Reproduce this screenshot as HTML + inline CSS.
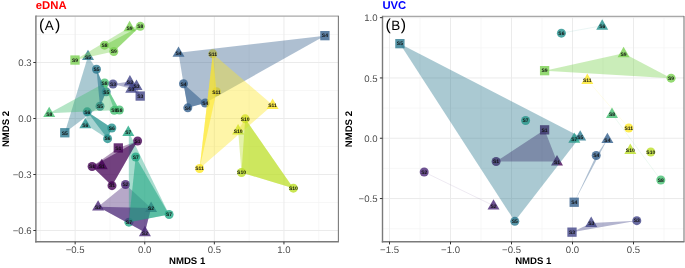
<!DOCTYPE html>
<html><head><meta charset="utf-8"><style>
html,body{margin:0;padding:0;background:#fff;}
body{width:685px;height:268px;overflow:hidden;}
svg{display:block;will-change:transform;}
text{font-family:"Liberation Sans",sans-serif;text-rendering:geometricPrecision;}
.l{font-size:5.0px;font-weight:bold;fill:#111;text-anchor:middle;}
.t{font-size:9.6px;fill:#4d4d4d;}
.at{font-size:9.6px;font-weight:bold;fill:#000;}
.ttl{font-size:11.3px;font-weight:bold;}
.tag{font-size:13.6px;fill:#000;}
</style></head><body>
<svg width="685" height="268" viewBox="0 0 685 268">
<rect width="685" height="268" fill="#fff"/>
<line x1="40.35" y1="16.2" x2="40.35" y2="241.8" stroke="#f2f2f2" stroke-width="0.6"/>
<line x1="109.95" y1="16.2" x2="109.95" y2="241.8" stroke="#f2f2f2" stroke-width="0.6"/>
<line x1="179.55" y1="16.2" x2="179.55" y2="241.8" stroke="#f2f2f2" stroke-width="0.6"/>
<line x1="249.15" y1="16.2" x2="249.15" y2="241.8" stroke="#f2f2f2" stroke-width="0.6"/>
<line x1="318.75" y1="16.2" x2="318.75" y2="241.8" stroke="#f2f2f2" stroke-width="0.6"/>
<line x1="35.9" y1="34.5" x2="338.4" y2="34.5" stroke="#f2f2f2" stroke-width="0.6"/>
<line x1="35.9" y1="90.5" x2="338.4" y2="90.5" stroke="#f2f2f2" stroke-width="0.6"/>
<line x1="35.9" y1="146.5" x2="338.4" y2="146.5" stroke="#f2f2f2" stroke-width="0.6"/>
<line x1="35.9" y1="202.5" x2="338.4" y2="202.5" stroke="#f2f2f2" stroke-width="0.6"/>
<line x1="75.15" y1="16.2" x2="75.15" y2="241.8" stroke="#ebebeb" stroke-width="1"/>
<line x1="144.75" y1="16.2" x2="144.75" y2="241.8" stroke="#ebebeb" stroke-width="1"/>
<line x1="214.35" y1="16.2" x2="214.35" y2="241.8" stroke="#ebebeb" stroke-width="1"/>
<line x1="283.95" y1="16.2" x2="283.95" y2="241.8" stroke="#ebebeb" stroke-width="1"/>
<line x1="35.9" y1="62.5" x2="338.4" y2="62.5" stroke="#ebebeb" stroke-width="1"/>
<line x1="35.9" y1="118.5" x2="338.4" y2="118.5" stroke="#ebebeb" stroke-width="1"/>
<line x1="35.9" y1="174.5" x2="338.4" y2="174.5" stroke="#ebebeb" stroke-width="1"/>
<line x1="35.9" y1="230.5" x2="338.4" y2="230.5" stroke="#ebebeb" stroke-width="1"/>
<rect x="70.35" y="55.4" width="9.3" height="9.3" fill="#7AD151" fill-opacity="0.8"/>
<circle cx="104.5" cy="45.15" r="4.5" fill="#7AD151" fill-opacity="0.8"/>
<circle cx="113.8" cy="51.45" r="4.5" fill="#7AD151" fill-opacity="0.8"/>
<polygon points="129.6,20.82 123.6,31.21 135.6,31.21" fill="#7AD151" fill-opacity="0.8"/>
<circle cx="140.3" cy="26.35" r="4.5" fill="#7AD151" fill-opacity="0.8"/>
<polygon points="88,49.72 82,60.11 94,60.11" fill="#2A788E" fill-opacity="0.8"/>
<circle cx="96.5" cy="69.25" r="4.5" fill="#2A788E" fill-opacity="0.8"/>
<circle cx="106.2" cy="91.85" r="4.5" fill="#2A788E" fill-opacity="0.8"/>
<circle cx="100" cy="106.25" r="4.5" fill="#2A788E" fill-opacity="0.8"/>
<rect x="60.15" y="128.1" width="9.3" height="9.3" fill="#2A788E" fill-opacity="0.8"/>
<circle cx="104.6" cy="82.95" r="4.5" fill="#43BF71" fill-opacity="0.8"/>
<circle cx="114.3" cy="110.35" r="4.5" fill="#43BF71" fill-opacity="0.8"/>
<circle cx="119.4" cy="110.05" r="4.5" fill="#43BF71" fill-opacity="0.8"/>
<polygon points="49.2,106.72 43.2,117.11 55.2,117.11" fill="#43BF71" fill-opacity="0.8"/>
<circle cx="113" cy="83.95" r="4.5" fill="#414487" fill-opacity="0.8"/>
<polygon points="129.9,75.12 123.9,85.51 135.9,85.51" fill="#414487" fill-opacity="0.8"/>
<polygon points="136.5,79.62 130.5,90.01 142.5,90.01" fill="#414487" fill-opacity="0.8"/>
<polygon points="131.2,82.32 125.2,92.71 137.2,92.71" fill="#414487" fill-opacity="0.8"/>
<rect x="135.55" y="91.4" width="9.3" height="9.3" fill="#414487" fill-opacity="0.8"/>
<circle cx="87.2" cy="111.85" r="4.5" fill="#21908C" fill-opacity="0.8"/>
<polygon points="85.3,117.92 79.3,128.31 91.3,128.31" fill="#21908C" fill-opacity="0.8"/>
<circle cx="111.8" cy="128.05" r="4.5" fill="#21908C" fill-opacity="0.8"/>
<circle cx="107.6" cy="138.65" r="4.5" fill="#21908C" fill-opacity="0.8"/>
<polygon points="128.3,125.52 122.3,135.91 134.3,135.91" fill="#22A884" fill-opacity="0.8"/>
<circle cx="135.7" cy="156.95" r="4.5" fill="#22A884" fill-opacity="0.8"/>
<circle cx="169.1" cy="214.45" r="4.5" fill="#22A884" fill-opacity="0.8"/>
<circle cx="128.9" cy="222.15" r="4.5" fill="#22A884" fill-opacity="0.8"/>
<rect x="113.65" y="143.3" width="9.3" height="9.3" fill="#440154" fill-opacity="0.8"/>
<circle cx="137.6" cy="140.95" r="4.5" fill="#440154" fill-opacity="0.8"/>
<circle cx="92.1" cy="166.45" r="4.5" fill="#440154" fill-opacity="0.8"/>
<polygon points="101.8,158.82 95.8,169.21 107.8,169.21" fill="#440154" fill-opacity="0.8"/>
<circle cx="112" cy="185.65" r="4.5" fill="#440154" fill-opacity="0.8"/>
<circle cx="125.5" cy="184.55" r="4.5" fill="#482576" fill-opacity="0.8"/>
<polygon points="98.1,200.22 92.1,210.61 104.1,210.61" fill="#482576" fill-opacity="0.8"/>
<polygon points="151.1,201.62 145.1,212.01 157.1,212.01" fill="#482576" fill-opacity="0.8"/>
<polygon points="144.9,225.82 138.9,236.21 150.9,236.21" fill="#482576" fill-opacity="0.8"/>
<polygon points="178.5,46.42 172.5,56.81 184.5,56.81" fill="#35608D" fill-opacity="0.8"/>
<rect x="320.25" y="31" width="9.3" height="9.3" fill="#35608D" fill-opacity="0.8"/>
<circle cx="183.5" cy="83.75" r="4.5" fill="#35608D" fill-opacity="0.8"/>
<circle cx="187.8" cy="107.85" r="4.5" fill="#35608D" fill-opacity="0.8"/>
<circle cx="205.2" cy="102.95" r="4.5" fill="#35608D" fill-opacity="0.8"/>
<circle cx="212.8" cy="53.85" r="4.5" fill="#FDE725" fill-opacity="0.8"/>
<circle cx="216.5" cy="91.75" r="4.5" fill="#FDE725" fill-opacity="0.8"/>
<polygon points="272.6,98.62 266.6,109.01 278.6,109.01" fill="#FDE725" fill-opacity="0.8"/>
<circle cx="199.6" cy="168.55" r="4.5" fill="#FDE725" fill-opacity="0.8"/>
<circle cx="245.2" cy="118.85" r="4.5" fill="#BBDF27" fill-opacity="0.8"/>
<polygon points="238.1,124.12 232.1,134.51 244.1,134.51" fill="#BBDF27" fill-opacity="0.8"/>
<circle cx="241.5" cy="172.55" r="4.5" fill="#BBDF27" fill-opacity="0.8"/>
<circle cx="293.4" cy="188.15" r="4.5" fill="#BBDF27" fill-opacity="0.8"/>
<polygon points="92.1,166.45 118.3,147.95 137.6,140.95 112,185.65" fill="#440154" fill-opacity="0.4"/>
<polygon points="125.5,184.55 151.1,208.05 144.9,232.25 98.1,206.65" fill="#482576" fill-opacity="0.4"/>
<polygon points="113,83.95 129.9,81.55 136.5,86.05 140.2,96.05 131.2,88.75" fill="#414487" fill-opacity="0.4"/>
<polygon points="178.5,52.85 324.9,35.65 205.2,102.95 187.8,107.85 183.5,83.75" fill="#35608D" fill-opacity="0.4"/>
<polygon points="88,56.15 96.5,69.25 106.2,91.85 100,106.25 64.8,132.75" fill="#2A788E" fill-opacity="0.4"/>
<polygon points="87.2,111.85 111.8,128.05 107.6,138.65 85.3,124.35" fill="#21908C" fill-opacity="0.4"/>
<polygon points="128.8,131.95 169.1,214.45 128.9,222.15" fill="#22A884" fill-opacity="0.4"/>
<polygon points="49.2,113.15 104.6,82.95 119.4,110.05 114.3,110.35" fill="#43BF71" fill-opacity="0.4"/>
<polygon points="75,60.05 129.6,27.25 140.3,26.35 113.8,51.45" fill="#7AD151" fill-opacity="0.4"/>
<polygon points="238.1,130.55 245.2,118.85 293.4,188.15 241.5,172.55" fill="#BBDF27" fill-opacity="0.4"/>
<polygon points="212.8,53.85 272.6,105.05 199.6,168.55" fill="#FDE725" fill-opacity="0.4"/>
<polygon points="92.1,166.45 137.6,140.95 112,185.65" fill="#440154" fill-opacity="0.58"/>
<polygon points="98.1,206.65 151.1,208.05 144.9,232.25" fill="#482576" fill-opacity="0.58"/>
<polygon points="129.9,81.55 136.5,86.05 131.2,88.75" fill="#414487" fill-opacity="0.58"/>
<polygon points="183.5,83.75 205.2,102.95 187.8,107.85" fill="#35608D" fill-opacity="0.58"/>
<polygon points="96.5,69.25 106.2,91.85 100,106.25" fill="#2A788E" fill-opacity="0.58"/>
<polygon points="87.2,111.85 111.8,128.05 107.6,138.65" fill="#21908C" fill-opacity="0.58"/>
<polygon points="135.7,156.95 169.1,214.45 128.8,222.15" fill="#22A884" fill-opacity="0.58"/>
<polygon points="104.6,82.95 119.4,110.05 114.3,110.35" fill="#43BF71" fill-opacity="0.58"/>
<polygon points="104.5,45.15 140.3,26.35 113.8,51.45" fill="#7AD151" fill-opacity="0.58"/>
<polygon points="245.2,118.85 293.4,188.15 241.5,172.55" fill="#BBDF27" fill-opacity="0.58"/>
<polygon points="212.8,53.85 216.5,91.75 199.6,168.55" fill="#FDE725" fill-opacity="0.58"/>
<text x="75" y="61.85" class="l">S9</text>
<text x="104.5" y="46.95" class="l">S8</text>
<text x="113.8" y="53.25" class="l">S9</text>
<text x="129.6" y="29.65" class="l">S9</text>
<text x="140.3" y="28.15" class="l">S8</text>
<text x="88" y="58.55" class="l">S5</text>
<text x="96.5" y="71.05" class="l">S5</text>
<text x="106.2" y="93.65" class="l">S5</text>
<text x="100" y="108.05" class="l">S5</text>
<text x="64.8" y="134.55" class="l">S5</text>
<text x="104.6" y="84.75" class="l">S8</text>
<text x="114.3" y="112.15" class="l">S8</text>
<text x="119.4" y="111.85" class="l">S8</text>
<text x="49.2" y="115.55" class="l">S8</text>
<text x="113" y="85.75" class="l">S3</text>
<text x="129.9" y="83.95" class="l">S3</text>
<text x="136.5" y="88.45" class="l">S3</text>
<text x="131.2" y="91.15" class="l">S3</text>
<text x="140.2" y="97.85" class="l">S3</text>
<text x="87.2" y="113.65" class="l">S6</text>
<text x="85.3" y="126.75" class="l">S6</text>
<text x="111.8" y="129.85" class="l">S6</text>
<text x="107.6" y="140.45" class="l">S6</text>
<text x="128.3" y="134.35" class="l">S7</text>
<text x="135.7" y="158.75" class="l">S7</text>
<text x="169.1" y="216.25" class="l">S7</text>
<text x="128.9" y="223.95" class="l">S7</text>
<text x="118.3" y="149.75" class="l">S1</text>
<text x="137.6" y="142.75" class="l">S1</text>
<text x="92.1" y="168.25" class="l">S1</text>
<text x="101.8" y="167.65" class="l">S1</text>
<text x="112" y="187.45" class="l">S1</text>
<text x="125.5" y="186.35" class="l">S2</text>
<text x="98.1" y="209.05" class="l">S2</text>
<text x="151.1" y="210.45" class="l">S2</text>
<text x="144.9" y="234.65" class="l">S2</text>
<text x="178.5" y="55.25" class="l">S4</text>
<text x="324.9" y="37.45" class="l">S4</text>
<text x="183.5" y="85.55" class="l">S4</text>
<text x="187.8" y="109.65" class="l">S4</text>
<text x="205.2" y="104.75" class="l">S4</text>
<text x="212.8" y="55.65" class="l">S11</text>
<text x="216.5" y="93.55" class="l">S11</text>
<text x="272.6" y="107.45" class="l">S11</text>
<text x="199.6" y="170.35" class="l">S11</text>
<text x="245.2" y="120.65" class="l">S10</text>
<text x="238.1" y="132.95" class="l">S10</text>
<text x="241.5" y="174.35" class="l">S10</text>
<text x="293.4" y="189.95" class="l">S10</text>
<line x1="35.9" y1="16.2" x2="338.4" y2="16.2" stroke="#a8a8a8" stroke-width="1.3"/>
<line x1="338.4" y1="15.7" x2="338.4" y2="241.8" stroke="#7a7a7a" stroke-width="1.1"/>
<line x1="35.9" y1="15.6" x2="35.9" y2="242.5" stroke="#7a7a7a" stroke-width="1.4"/>
<line x1="35.2" y1="241.8" x2="338.9" y2="241.8" stroke="#7a7a7a" stroke-width="1.4"/>
<line x1="75.15" y1="241.8" x2="75.15" y2="244.4" stroke="#333" stroke-width="1"/>
<text class="t" text-anchor="middle" transform="translate(75.15 252.8) scale(1.0 1)">−0.5</text>
<line x1="144.75" y1="241.8" x2="144.75" y2="244.4" stroke="#333" stroke-width="1"/>
<text class="t" text-anchor="middle" transform="translate(144.75 252.8) scale(1.0 1)">0.0</text>
<line x1="214.35" y1="241.8" x2="214.35" y2="244.4" stroke="#333" stroke-width="1"/>
<text class="t" text-anchor="middle" transform="translate(214.35 252.8) scale(1.0 1)">0.5</text>
<line x1="283.95" y1="241.8" x2="283.95" y2="244.4" stroke="#333" stroke-width="1"/>
<text class="t" text-anchor="middle" transform="translate(283.95 252.8) scale(1.0 1)">1.0</text>
<line x1="33.3" y1="62.5" x2="35.9" y2="62.5" stroke="#333" stroke-width="1"/>
<text class="t" text-anchor="end" transform="translate(31.7 66.1) scale(1.0 1)">0.3</text>
<line x1="33.3" y1="118.5" x2="35.9" y2="118.5" stroke="#333" stroke-width="1"/>
<text class="t" text-anchor="end" transform="translate(31.7 122.1) scale(1.0 1)">0.0</text>
<line x1="33.3" y1="174.5" x2="35.9" y2="174.5" stroke="#333" stroke-width="1"/>
<text class="t" text-anchor="end" transform="translate(31.7 178.1) scale(1.0 1)">−0.3</text>
<line x1="33.3" y1="230.5" x2="35.9" y2="230.5" stroke="#333" stroke-width="1"/>
<text class="t" text-anchor="end" transform="translate(31.7 234.1) scale(1.0 1)">−0.6</text>
<text x="187.15" y="263.8" class="at" text-anchor="middle">NMDS 1</text>
<text x="8.8" y="129" class="at" text-anchor="middle" transform="rotate(-90 8.8 129)">NMDS 2</text>
<text x="39" y="30.15" class="tag" style="font-size:15.9px">(</text><text x="44.8" y="30.0" class="tag" style="font-size:13.5px">A</text><text x="54.9" y="30.15" class="tag" style="font-size:15.9px">)</text>
<text x="35.8" y="9.1" class="ttl" fill="#ff0000">eDNA</text>
<line x1="420" y1="16.4" x2="420" y2="241.8" stroke="#f2f2f2" stroke-width="0.6"/>
<line x1="481" y1="16.4" x2="481" y2="241.8" stroke="#f2f2f2" stroke-width="0.6"/>
<line x1="542" y1="16.4" x2="542" y2="241.8" stroke="#f2f2f2" stroke-width="0.6"/>
<line x1="603" y1="16.4" x2="603" y2="241.8" stroke="#f2f2f2" stroke-width="0.6"/>
<line x1="664" y1="16.4" x2="664" y2="241.8" stroke="#f2f2f2" stroke-width="0.6"/>
<line x1="382.5" y1="47.8" x2="684" y2="47.8" stroke="#f2f2f2" stroke-width="0.6"/>
<line x1="382.5" y1="108.1" x2="684" y2="108.1" stroke="#f2f2f2" stroke-width="0.6"/>
<line x1="382.5" y1="168.4" x2="684" y2="168.4" stroke="#f2f2f2" stroke-width="0.6"/>
<line x1="382.5" y1="228.7" x2="684" y2="228.7" stroke="#f2f2f2" stroke-width="0.6"/>
<line x1="389.5" y1="16.4" x2="389.5" y2="241.8" stroke="#ebebeb" stroke-width="1"/>
<line x1="450.5" y1="16.4" x2="450.5" y2="241.8" stroke="#ebebeb" stroke-width="1"/>
<line x1="511.5" y1="16.4" x2="511.5" y2="241.8" stroke="#ebebeb" stroke-width="1"/>
<line x1="572.5" y1="16.4" x2="572.5" y2="241.8" stroke="#ebebeb" stroke-width="1"/>
<line x1="633.5" y1="16.4" x2="633.5" y2="241.8" stroke="#ebebeb" stroke-width="1"/>
<line x1="382.5" y1="17.65" x2="684" y2="17.65" stroke="#ebebeb" stroke-width="1"/>
<line x1="382.5" y1="77.95" x2="684" y2="77.95" stroke="#ebebeb" stroke-width="1"/>
<line x1="382.5" y1="138.25" x2="684" y2="138.25" stroke="#ebebeb" stroke-width="1"/>
<line x1="382.5" y1="198.55" x2="684" y2="198.55" stroke="#ebebeb" stroke-width="1"/>
<rect x="395.25" y="39" width="9.3" height="9.3" fill="#2A788E" fill-opacity="0.8"/>
<polygon points="580.2,130.22 574.2,140.61 586.2,140.61" fill="#2A788E" fill-opacity="0.8"/>
<circle cx="514.8" cy="221.35" r="4.5" fill="#2A788E" fill-opacity="0.8"/>
<circle cx="561.4" cy="33.15" r="4.5" fill="#21908C" fill-opacity="0.8"/>
<polygon points="602.2,19.32 596.2,29.71 608.2,29.71" fill="#21908C" fill-opacity="0.8"/>
<rect x="539.95" y="66" width="9.3" height="9.3" fill="#7AD151" fill-opacity="0.8"/>
<polygon points="623.6,46.82 617.6,57.21 629.6,57.21" fill="#7AD151" fill-opacity="0.8"/>
<circle cx="671.1" cy="78.15" r="4.5" fill="#7AD151" fill-opacity="0.8"/>
<polygon points="587.3,73.62 581.3,84.01 593.3,84.01" fill="#FDE725" fill-opacity="0.8"/>
<circle cx="628.8" cy="127.95" r="4.5" fill="#FDE725" fill-opacity="0.8"/>
<polygon points="612,107.52 606,117.91 618,117.91" fill="#43BF71" fill-opacity="0.8"/>
<circle cx="660.8" cy="179.95" r="4.5" fill="#43BF71" fill-opacity="0.8"/>
<circle cx="525.6" cy="120.45" r="4.5" fill="#22A884" fill-opacity="0.8"/>
<polygon points="574.3,132.42 568.3,142.81 580.3,142.81" fill="#22A884" fill-opacity="0.8"/>
<rect x="539.95" y="125.2" width="9.3" height="9.3" fill="#440154" fill-opacity="0.8"/>
<circle cx="496.1" cy="161.55" r="4.5" fill="#440154" fill-opacity="0.8"/>
<polygon points="557,155.02 551,165.41 563,165.41" fill="#440154" fill-opacity="0.8"/>
<polygon points="607.4,132.72 601.4,143.11 613.4,143.11" fill="#35608D" fill-opacity="0.8"/>
<circle cx="596.2" cy="155.55" r="4.5" fill="#35608D" fill-opacity="0.8"/>
<rect x="569.55" y="197.6" width="9.3" height="9.3" fill="#35608D" fill-opacity="0.8"/>
<polygon points="630.3,143.52 624.3,153.91 636.3,153.91" fill="#BBDF27" fill-opacity="0.8"/>
<circle cx="650.8" cy="151.95" r="4.5" fill="#BBDF27" fill-opacity="0.8"/>
<circle cx="424.2" cy="172.05" r="4.5" fill="#482576" fill-opacity="0.8"/>
<polygon points="493.5,199.22 487.5,209.61 499.5,209.61" fill="#482576" fill-opacity="0.8"/>
<rect x="567.35" y="227.5" width="9.3" height="9.3" fill="#414487" fill-opacity="0.8"/>
<polygon points="591.2,216.52 585.2,226.91 597.2,226.91" fill="#414487" fill-opacity="0.8"/>
<circle cx="636.8" cy="220.65" r="4.5" fill="#414487" fill-opacity="0.8"/>
<polygon points="496.1,161.55 544.6,129.85 557,161.45" fill="#440154" fill-opacity="0.4"/>
<polygon points="572,232.15 591.2,222.95 636.8,220.65" fill="#414487" fill-opacity="0.4"/>
<polygon points="574.2,202.25 596.2,155.55 607.4,139.15" fill="#35608D" fill-opacity="0.4"/>
<polygon points="399.9,43.65 580.2,136.65 514.8,221.35" fill="#2A788E" fill-opacity="0.4"/>
<polygon points="544.6,70.65 623.6,53.25 671.1,78.15" fill="#7AD151" fill-opacity="0.4"/>
<line x1="424.2" y1="172.05" x2="493.5" y2="205.65" stroke="#482576" stroke-opacity="0.16" stroke-width="0.6"/>
<line x1="561.4" y1="33.15" x2="602.2" y2="25.75" stroke="#21908C" stroke-opacity="0.16" stroke-width="0.6"/>
<line x1="587.3" y1="80.05" x2="628.8" y2="127.95" stroke="#FDE725" stroke-opacity="0.16" stroke-width="0.6"/>
<line x1="612" y1="113.95" x2="660.8" y2="179.95" stroke="#43BF71" stroke-opacity="0.16" stroke-width="0.6"/>
<text x="399.9" y="45.45" class="l">S5</text>
<text x="580.2" y="139.05" class="l">S5</text>
<text x="514.8" y="223.15" class="l">S5</text>
<text x="561.4" y="34.95" class="l">S6</text>
<text x="602.2" y="28.15" class="l">S6</text>
<text x="544.6" y="72.45" class="l">S9</text>
<text x="623.6" y="55.65" class="l">S9</text>
<text x="671.1" y="79.95" class="l">S9</text>
<text x="587.3" y="82.45" class="l">S11</text>
<text x="628.8" y="129.75" class="l">S11</text>
<text x="612" y="116.35" class="l">S8</text>
<text x="660.8" y="181.75" class="l">S8</text>
<text x="525.6" y="122.25" class="l">S7</text>
<text x="574.3" y="141.25" class="l">S7</text>
<text x="544.6" y="131.65" class="l">S1</text>
<text x="496.1" y="163.35" class="l">S1</text>
<text x="557" y="163.85" class="l">S1</text>
<text x="607.4" y="141.55" class="l">S4</text>
<text x="596.2" y="157.35" class="l">S4</text>
<text x="574.2" y="204.05" class="l">S4</text>
<text x="630.3" y="152.35" class="l">S10</text>
<text x="650.8" y="153.75" class="l">S10</text>
<text x="424.2" y="173.85" class="l">S2</text>
<text x="493.5" y="208.05" class="l">S2</text>
<text x="572" y="233.95" class="l">S3</text>
<text x="591.2" y="225.35" class="l">S3</text>
<text x="636.8" y="222.45" class="l">S3</text>
<line x1="382.5" y1="16.4" x2="684" y2="16.4" stroke="#a8a8a8" stroke-width="1.3"/>
<line x1="684" y1="15.9" x2="684" y2="241.8" stroke="#7a7a7a" stroke-width="1.1"/>
<line x1="382.5" y1="15.8" x2="382.5" y2="242.5" stroke="#7a7a7a" stroke-width="1.4"/>
<line x1="381.8" y1="241.8" x2="684.5" y2="241.8" stroke="#7a7a7a" stroke-width="1.4"/>
<line x1="389.5" y1="241.8" x2="389.5" y2="244.4" stroke="#333" stroke-width="1"/>
<text class="t" text-anchor="middle" transform="translate(389.5 252.8) scale(1.0 1)">−1.5</text>
<line x1="450.5" y1="241.8" x2="450.5" y2="244.4" stroke="#333" stroke-width="1"/>
<text class="t" text-anchor="middle" transform="translate(450.5 252.8) scale(1.0 1)">−1.0</text>
<line x1="511.5" y1="241.8" x2="511.5" y2="244.4" stroke="#333" stroke-width="1"/>
<text class="t" text-anchor="middle" transform="translate(511.5 252.8) scale(1.0 1)">−0.5</text>
<line x1="572.5" y1="241.8" x2="572.5" y2="244.4" stroke="#333" stroke-width="1"/>
<text class="t" text-anchor="middle" transform="translate(572.5 252.8) scale(1.0 1)">0.0</text>
<line x1="633.5" y1="241.8" x2="633.5" y2="244.4" stroke="#333" stroke-width="1"/>
<text class="t" text-anchor="middle" transform="translate(633.5 252.8) scale(1.0 1)">0.5</text>
<line x1="379.9" y1="17.65" x2="382.5" y2="17.65" stroke="#333" stroke-width="1"/>
<text class="t" text-anchor="end" transform="translate(377.5 21.25) scale(1.0 1)">1.0</text>
<line x1="379.9" y1="77.95" x2="382.5" y2="77.95" stroke="#333" stroke-width="1"/>
<text class="t" text-anchor="end" transform="translate(377.5 81.55) scale(1.0 1)">0.5</text>
<line x1="379.9" y1="138.25" x2="382.5" y2="138.25" stroke="#333" stroke-width="1"/>
<text class="t" text-anchor="end" transform="translate(377.5 141.85) scale(1.0 1)">0.0</text>
<line x1="379.9" y1="198.55" x2="382.5" y2="198.55" stroke="#333" stroke-width="1"/>
<text class="t" text-anchor="end" transform="translate(377.5 202.15) scale(1.0 1)">−0.5</text>
<text x="533.25" y="263.8" class="at" text-anchor="middle">NMDS 1</text>
<text x="352.5" y="129.1" class="at" text-anchor="middle" transform="rotate(-90 352.5 129.1)">NMDS 2</text>
<text x="385.5" y="30.15" class="tag" style="font-size:15.9px">(</text><text x="391.3" y="30.0" class="tag" style="font-size:13.5px">B</text><text x="400.8" y="30.15" class="tag" style="font-size:15.9px">)</text>
<text x="382.4" y="9.1" class="ttl" fill="#0000ff">UVC</text>
</svg>
</body></html>
